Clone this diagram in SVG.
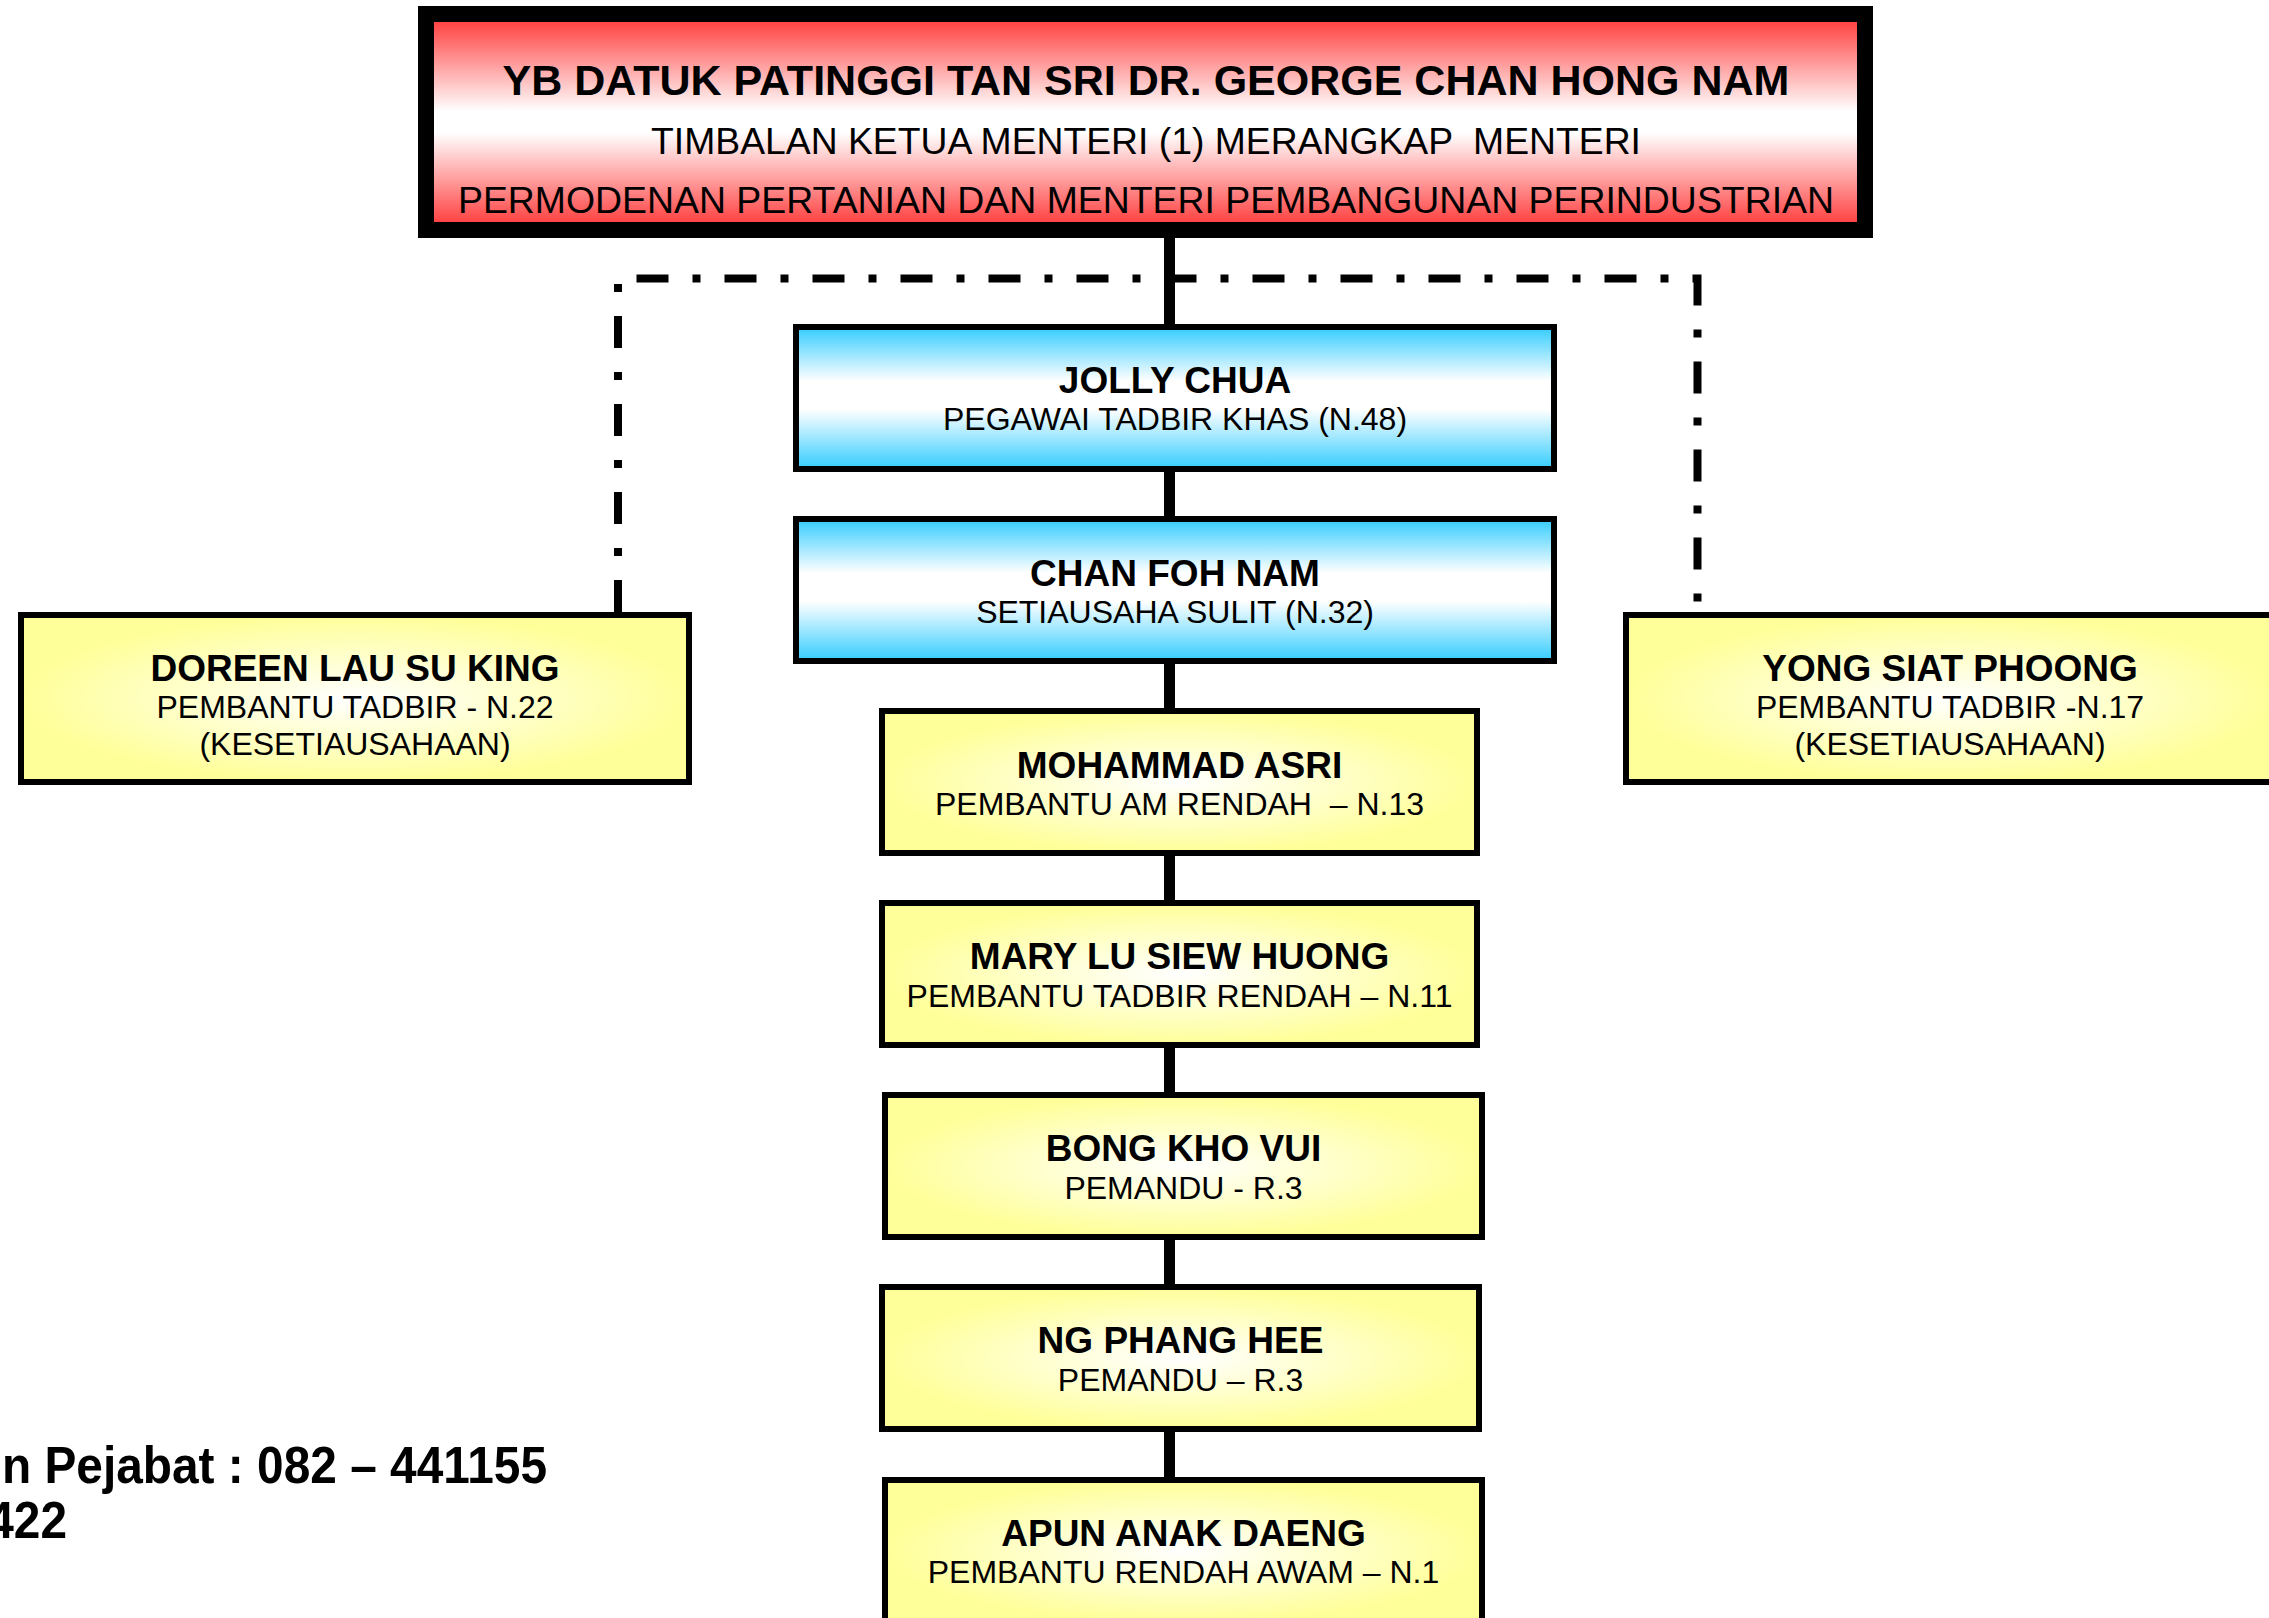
<svg xmlns="http://www.w3.org/2000/svg" width="2269" height="1618" viewBox="0 0 2269 1618">
<defs>
<linearGradient id="gRed" x1="0" y1="0" x2="0" y2="1">
<stop offset="0" stop-color="#ff3333"/>
<stop offset="0.45" stop-color="#ffffff"/>
<stop offset="0.55" stop-color="#ffffff"/>
<stop offset="1" stop-color="#ff3333"/>
</linearGradient>
<linearGradient id="gBlue" x1="0" y1="0" x2="0" y2="1">
<stop offset="0" stop-color="#33ccff"/>
<stop offset="0.38" stop-color="#ffffff"/>
<stop offset="0.58" stop-color="#ffffff"/>
<stop offset="1" stop-color="#33ccff"/>
</linearGradient>
<radialGradient id="gYel" cx="0.5" cy="0.5" r="0.5">
<stop offset="0" stop-color="#ffffff"/>
<stop offset="0.15" stop-color="#fffff0"/>
<stop offset="1" stop-color="#ffff99"/>
</radialGradient>
</defs>
<style>
.box{stroke:#000;stroke-width:6}
.yel{fill:url(#gYel)}
.blue{fill:url(#gBlue)}
.name{font-family:"Liberation Sans",Arial,sans-serif;font-weight:bold;font-size:37px;text-anchor:middle;fill:#000}
.sub{font-family:"Liberation Sans",Arial,sans-serif;font-size:32px;text-anchor:middle;fill:#000;white-space:pre}
.top{font-family:"Liberation Sans",Arial,sans-serif;text-anchor:middle;fill:#000;white-space:pre}
.foot{font-family:"Liberation Sans",Arial,sans-serif;font-weight:bold;font-size:52px;text-anchor:end;fill:#000}
</style>
<rect x="0" y="0" width="2269" height="1618" fill="#ffffff"/>
<g id="connectors">
<line x1="1169.5" y1="230" x2="1169.5" y2="1480" stroke="#000" stroke-width="11"/>
<path d="M618,612 V278.5 H1697.5 V612" fill="none" stroke="#000" stroke-width="8" stroke-dasharray="32 24 8 24"/>
</g>
<g id="minister">
<rect x="426" y="14" width="1439" height="216" fill="url(#gRed)" stroke="#000" stroke-width="16"/>
<text class="top" x="1146" y="95" font-size="43" font-weight="bold">YB DATUK PATINGGI TAN SRI DR. GEORGE CHAN HONG NAM</text>
<text class="top" x="1146" y="154" font-size="37.3">TIMBALAN KETUA MENTERI (1) MERANGKAP  MENTERI</text>
<text class="top" x="1146" y="213" font-size="37.4">PERMODENAN PERTANIAN DAN MENTERI PEMBANGUNAN PERINDUSTRIAN</text>
</g>
<g id="jolly">
<rect class="box blue" x="796" y="327" width="758" height="142"/>
<text class="name" x="1175" y="393">JOLLY CHUA</text>
<text class="sub" x="1175" y="430">PEGAWAI TADBIR KHAS (N.48)</text>
</g>
<g id="chan">
<rect class="box blue" x="796" y="519" width="758" height="142"/>
<text class="name" x="1175" y="586">CHAN FOH NAM</text>
<text class="sub" x="1175" y="623">SETIAUSAHA SULIT (N.32)</text>
</g>
<g id="doreen">
<rect class="box yel" x="21" y="615" width="668" height="167"/>
<text class="name" x="355" y="681">DOREEN LAU SU KING</text>
<text class="sub" x="355" y="718">PEMBANTU TADBIR - N.22</text>
<text class="sub" x="355" y="755">(KESETIAUSAHAAN)</text>
</g>
<g id="yong">
<rect class="box yel" x="1626" y="615" width="648" height="167"/>
<text class="name" x="1950" y="681">YONG SIAT PHOONG</text>
<text class="sub" x="1950" y="718">PEMBANTU TADBIR -N.17</text>
<text class="sub" x="1950" y="755">(KESETIAUSAHAAN)</text>
</g>
<g id="mohammad">
<rect class="box yel" x="882" y="711" width="595" height="142"/>
<text class="name" x="1179.5" y="778">MOHAMMAD ASRI</text>
<text class="sub" x="1179.5" y="815">PEMBANTU AM RENDAH  – N.13</text>
</g>
<g id="mary">
<rect class="box yel" x="882" y="903" width="595" height="142"/>
<text class="name" x="1179.5" y="969">MARY LU SIEW HUONG</text>
<text class="sub" x="1179.5" y="1007">PEMBANTU TADBIR RENDAH – N.11</text>
</g>
<g id="bong">
<rect class="box yel" x="885" y="1095" width="597" height="142"/>
<text class="name" x="1183.5" y="1161">BONG KHO VUI</text>
<text class="sub" x="1183.5" y="1199">PEMANDU - R.3</text>
</g>
<g id="ng">
<rect class="box yel" x="882" y="1287" width="597" height="142"/>
<text class="name" x="1180.5" y="1353">NG PHANG HEE</text>
<text class="sub" x="1180.5" y="1391">PEMANDU – R.3</text>
</g>
<g id="apun">
<rect class="box yel" x="885" y="1480" width="597" height="142"/>
<text class="name" x="1183.5" y="1546">APUN ANAK DAENG</text>
<text class="sub" x="1183.5" y="1583">PEMBANTU RENDAH AWAM – N.1</text>
</g>
<g id="footer">
<text class="foot" transform="translate(547,1483) scale(0.92,1)">n Pejabat : 082 – 441155</text>
<text class="foot" transform="translate(67,1538) scale(0.92,1)">422</text>
</g>
</svg>
